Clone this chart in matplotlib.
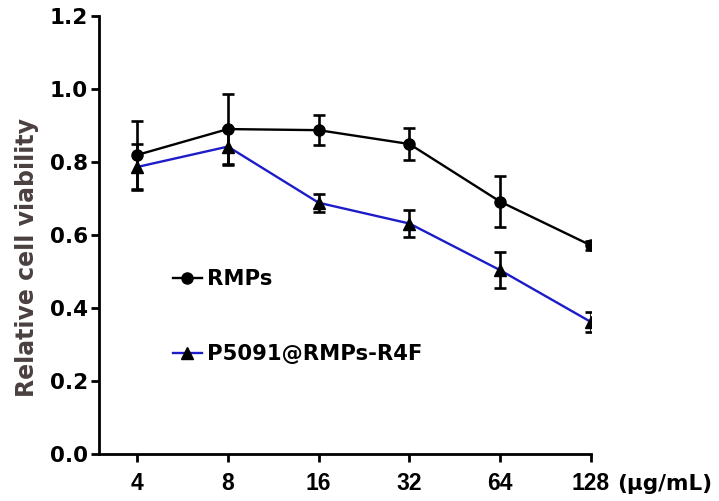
import matplotlib
matplotlib.use("Agg")
import matplotlib.pyplot as plt
from matplotlib.lines import Line2D
import numpy as np

plt.rcParams['font.family'] = ['DejaVu Sans']
plt.rcParams['font.weight'] = 'bold'

conc = [4, 8, 16, 32, 64, 128]
tick_labels = ['4', '8', '16', '32', '64', '128']
rmps = [0.819, 0.890, 0.887, 0.849, 0.691, 0.571]
rmps_err = [0.094, 0.097, 0.041, 0.044, 0.070, 0.013]
p5091 = [0.786, 0.842, 0.688, 0.631, 0.503, 0.361]
p5091_err = [0.062, 0.050, 0.024, 0.037, 0.050, 0.028]
yticks = [0.0, 0.2, 0.4, 0.6, 0.8, 1.0, 1.2]

W, H = 719, 501
fig = plt.figure(figsize=(W / 100, H / 100), dpi=100)
ax = fig.add_axes([99 / W, 1 - 453.7 / H, 492 / W, 437.7 / H])

ax.errorbar(conc, rmps, yerr=rmps_err, color='black', lw=1.7, marker='o', ms=8,
            mfc='black', mec='black', ecolor='black', elinewidth=1.9, capsize=4.5,
            capthick=1.9, zorder=3)
ax.errorbar(conc, p5091, yerr=p5091_err, color='#1c1cc8', lw=1.7, marker='^', ms=8,
            mfc='black', mec='black', ecolor='black', elinewidth=1.9, capsize=4.5,
            capthick=1.9, zorder=3)

ax.set_xscale('log', base=2)
ax.set_xlim(2 ** 1.58, 128)
ax.set_xticks(conc)
ax.set_xticklabels(tick_labels, fontfamily='Liberation Sans', fontweight='bold', fontsize=16.5)
ax.minorticks_off()
ax.set_ylim(0, 1.2)
ax.set_yticks(yticks)
ax.set_yticklabels([f'{v:.1f}' for v in yticks], fontsize=15.5, fontweight='bold')

for s in ['top', 'right']:
    ax.spines[s].set_visible(False)
for s in ['left', 'bottom']:
    ax.spines[s].set_linewidth(2.0)
ax.tick_params(axis='both', width=2.0, length=6)
ax.tick_params(axis='x', pad=7)
ax.tick_params(axis='y', pad=2)

fig.text(27.5 / W, 1 - 257.5 / H, 'Relative cell viability', rotation=90,
         fontsize=17, fontweight='bold', color='#4a4040', ha='center', va='center')

fig.text(617 / W, 1 - 483.5 / H, '(μg/mL)', fontsize=15.5,
         fontweight='bold', va='center', ha='left')

h1 = Line2D([], [], color='black', lw=1.7, marker='o', ms=8, mfc='black', mec='black')
h2 = Line2D([], [], color='#1c1cc8', lw=1.7, marker='^', ms=8, mfc='black', mec='black')
leg = ax.legend([h1, h2], ['RMPs', 'P5091@RMPs-R4F'], loc='upper left',
                bbox_to_anchor=(0.112, 0.465), frameon=False, fontsize=15.2,
                handlelength=1.35, handletextpad=0.25, labelspacing=2.6)

fig.savefig('out.png', dpi=100)
